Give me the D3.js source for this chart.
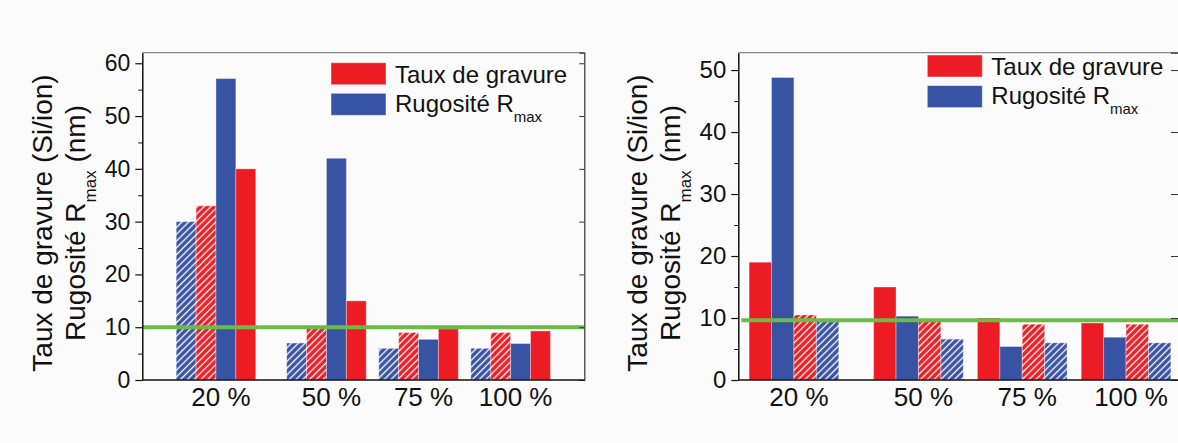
<!DOCTYPE html>
<html>
<head>
<meta charset="utf-8">
<script src="https://cdn.jsdelivr.net/npm/d3@7"></script>
<style>
  html, body { margin: 0; padding: 0; background: #fbfbfb; }
  svg { display: block; font-family: "Liberation Sans", Arial, sans-serif; }
  text { white-space: pre; }
</style>
</head>
<body>
<svg id="chart" width="1178" height="443"></svg>
<script>
// ---------- data ----------
const categories = ["20 %", "50 %", "75 %", "100 %"];
const percentages = [20, 50, 75, 100];

// left panel (order of bars: hatched blue, hatched red, blue, red)
const leftRoughHatched = [30, 7, 6, 6];
const leftRateHatched  = [33, 9.8, 9, 9];
const leftRough        = [57.1, 42, 7.7, 6.9];
const leftRate         = [40, 15, 9.7, 9.3];
const leftThreshold    = 10;
const leftYTicks       = [0, 10, 20, 30, 40, 50, 60];
const leftYMinor       = [5, 15, 25, 35, 45, 55];

// right panel (order of bars: red, blue, hatched red, hatched blue)
const rightRate         = [19, 15, 10, 9.2];
const rightRough        = [48.8, 10.3, 5.4, 6.9];
const rightRateHatched  = [10.5, 9.5, 9, 9];
const rightRoughHatched = [9.5, 6.6, 6, 6];
const rightThreshold    = 9.65;
const rightYTicks       = [0, 10, 20, 30, 40, 50];
const rightYMinor       = [5, 15, 25, 35, 45];

const legendLabels = ["Taux de gravure", "Rugosité R"];
const titleLine1 = "Taux de gravure (Si/ion)";
const titleLine2 = ["Rugosité R", "max", " (nm)"];

// ---------- styles ----------
const RED = "#ed1c24", BLUE = "#3953a4", GREEN = "#6cbb46";
const svg = d3.select("#chart");
const defs = svg.append("defs");
function hatch(id, color) {
  const p = defs.append("pattern").attr("id", id)
    .attr("patternUnits", "userSpaceOnUse")
    .attr("width", 4.8).attr("height", 4.8)
    .attr("patternTransform", "rotate(45)");
  p.append("rect").attr("width", 4.8).attr("height", 4.8).attr("fill", color);
  p.append("line").attr("x1", 2.4).attr("x2", 2.4).attr("y1", 0).attr("y2", 4.8)
    .attr("stroke", "#fff").attr("stroke-width", 1.3);
}
hatch("hRed", RED);
hatch("hBlue", BLUE);

function panel(cfg) {
  const g = svg.append("g");
  const x = d3.scaleLinear().domain(cfg.xDomain).range(cfg.xRange);
  const y = d3.scaleLinear().domain(cfg.yDomain).range([380, 52.7]);
  const bw = x(5.4) - x(0);
  const [x0, x1] = cfg.xRange;

  // bars
  cfg.series.forEach((s, i) => {
    g.selectAll(null).data(s.values).join("rect")
      .attr("x", (d, j) => x(percentages[j]) + (i - 2) * bw)
      .attr("y", d => y(d))
      .attr("width", bw)
      .attr("height", d => y(0) - y(d))
      .attr("fill", s.fill)
      .attr("stroke", "rgba(255,255,255,0.35)")
      .attr("stroke-width", 1);
  });

  // threshold line
  g.append("line")
    .attr("x1", x0 + cfg.lineStart).attr("x2", Math.min(x1, 1178))
    .attr("y1", y(cfg.threshold)).attr("y2", y(cfg.threshold))
    .attr("stroke", GREEN).attr("stroke-width", 4);

  // frame top
  g.append("line").attr("x1", x0).attr("x2", x1).attr("y1", 52.7).attr("y2", 52.7)
    .attr("stroke", "#888").attr("stroke-width", 1.2);
  // right axis with inward ticks
  const ra = g.append("g").attr("transform", `translate(${x1},0)`)
    .call(d3.axisLeft(y).tickValues(cfg.yTicks).tickSize(cfg.rightTick).tickFormat(""));
  ra.selectAll("line").attr("stroke", "#333");
  ra.select(".domain").attr("stroke", "#333").attr("stroke-width", 1.2);

  // left axis
  const la = g.append("g").attr("transform", `translate(${x0},0)`)
    .call(d3.axisLeft(y).tickValues(cfg.yTicks).tickSize(7).tickPadding(5).tickSizeOuter(0));
  la.select(".domain").attr("stroke", "#111").attr("stroke-width", 1.5);
  la.selectAll(".tick line").attr("stroke", "#111").attr("stroke-width", 1.2);
  la.selectAll(".tick text").attr("font-size", cfg.tickFont).attr("fill", "#111")
    .attr("font-family", "Liberation Sans, Arial, sans-serif");
  const lm = g.append("g").attr("transform", `translate(${x0},0)`)
    .call(d3.axisLeft(y).tickValues(cfg.yMinor).tickSize(4).tickFormat(""));
  lm.select(".domain").remove();
  lm.selectAll("line").attr("stroke", "#111");

  // bottom axis
  g.append("line").attr("x1", x0).attr("x2", x1).attr("y1", 380).attr("y2", 380)
    .attr("stroke", "#111").attr("stroke-width", 1.5);
  g.selectAll(null).data(categories).join("text")
    .attr("x", (d, j) => x(percentages[j]) + 5)
    .attr("y", 406)
    .attr("text-anchor", "middle")
    .attr("font-size", 26).attr("fill", "#111")
    .text(d => d);

  // y title
  const t = g.append("g").attr("transform", `translate(${cfg.titleX},223) rotate(-90)`);
  t.append("text").attr("x", 0).attr("y", 0).attr("text-anchor", "middle")
    .attr("font-size", 28).attr("fill", "#111").text(titleLine1);
  const t2 = t.append("text").attr("x", 0).attr("y", 33.5).attr("text-anchor", "middle")
    .attr("font-size", 28).attr("fill", "#111");
  t2.append("tspan").text(titleLine2[0]);
  t2.append("tspan").attr("font-size", 17).attr("dy", 11).text(titleLine2[1]);
  t2.append("tspan").attr("dy", -11).text(titleLine2[2]);

  // legend
  const L = cfg.legend;
  [RED, BLUE].forEach((c, i) => {
    g.append("rect").attr("x", L.x).attr("y", L.y + i * 30.6)
      .attr("width", 55).attr("height", 22)
      .attr("fill", c).attr("stroke", "rgba(255,255,255,0.45)").attr("stroke-width", 1);
  });
  g.append("text").attr("x", L.x + 64).attr("y", L.y + 20)
    .attr("font-size", 24).attr("fill", "#111").text(legendLabels[0]);
  const lt = g.append("text").attr("x", L.x + 64).attr("y", L.y + 49)
    .attr("font-size", 24).attr("fill", "#111");
  lt.append("tspan").text(legendLabels[1]);
  lt.append("tspan").attr("font-size", 15).attr("dy", 10).text("max");
}

panel({
  xDomain: [0, 120], xRange: [142.3, 584.3],
  yDomain: [0, 62], yTicks: leftYTicks, yMinor: leftYMinor,
  series: [
    { values: leftRoughHatched, fill: "url(#hBlue)" },
    { values: leftRateHatched,  fill: "url(#hRed)" },
    { values: leftRough,        fill: BLUE },
    { values: leftRate,         fill: RED }
  ],
  threshold: leftThreshold, lineStart: 0, rightTick: 5,
  tickFont: 23, titleX: 51.7,
  legend: { x: 331, y: 62.7 }
});

panel({
  xDomain: [6.6, 113], xRange: [738.3, 1180],
  yDomain: [0, 52.8], yTicks: rightYTicks, yMinor: rightYMinor,
  series: [
    { values: rightRate,         fill: RED },
    { values: rightRough,        fill: BLUE },
    { values: rightRateHatched,  fill: "url(#hRed)" },
    { values: rightRoughHatched, fill: "url(#hBlue)" }
  ],
  threshold: rightThreshold, lineStart: 3, rightTick: 9,
  tickFont: 24, titleX: 646.7,
  legend: { x: 927.3, y: 55 }
});
</script>
</body>
</html>
